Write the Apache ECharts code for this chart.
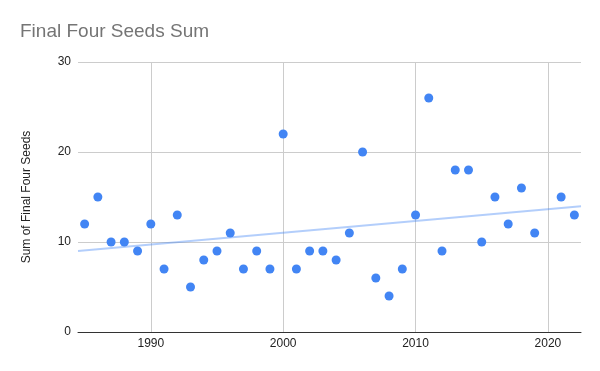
<!DOCTYPE html>
<html>
<head>
<meta charset="utf-8">
<script src="https://cdn.jsdelivr.net/npm/echarts@6/dist/echarts.min.js"></script>
<style>html,body{margin:0;padding:0;background:#fff}#c{width:600px;height:371px}</style>
</head>
<body>
<div id="c"></div>
<script>
const years = [1985,1986,1987,1988,1989,1990,1991,1992,1993,1994,1995,1996,1997,1998,1999,2000,2001,2002,2003,2004,2005,2006,2007,2008,2009,2010,2011,2012,2013,2014,2015,2016,2017,2018,2019,2021,2022];
const seedSums = [12,15,10,10,9,12,7,13,5,8,9,11,7,9,7,22,7,9,9,8,11,20,6,4,7,13,26,9,18,18,10,15,12,16,11,15,13];
const xTicks = [1990,2000,2010,2020];
const yTicks = [0,10,20,30];
const title = 'Final Four Seeds Sum';
const yName = 'Sum of Final Four Seeds';

const xMin = 1984.5, xMax = 2022.5;
// least squares trendline from data
const n = years.length;
const mx = years.reduce((a,b)=>a+b,0)/n;
const my = seedSums.reduce((a,b)=>a+b,0)/n;
let sxy = 0, sxx = 0;
for (let i=0;i<n;i++){ sxy += (years[i]-mx)*(seedSums[i]-my); sxx += (years[i]-mx)*(years[i]-mx); }
const slope = sxy/sxx, icpt = my - slope*mx;
const trend = [[xMin, icpt+slope*xMin],[xMax, icpt+slope*xMax]];

const chart = echarts.init(document.getElementById('c'), null, {renderer:'canvas'});
chart.setOption({
  animation:false,
  backgroundColor:'#fff',
  title:{text:title,left:20,top:22,padding:0,textStyle:{fontFamily:'Arial, Liberation Sans, sans-serif',fontSize:19,fontWeight:'normal',color:'#757575'}},
  grid:{left:78,right:19,top:62,bottom:39,containLabel:false},
  xAxis:{type:'value',min:xMin,max:xMax,
    axisLine:{show:true,onZero:false,lineStyle:{color:'#333',width:1}},
    axisTick:{show:false,customValues:xTicks},
    axisLabel:{customValues:xTicks,formatter:v=>String(v),color:'#222',fontFamily:'Arial, Liberation Sans, sans-serif',fontSize:12,margin:6},
    splitLine:{show:true,lineStyle:{color:'#cccccc',width:1}}
  },
  yAxis:{type:'value',min:0,max:30,interval:10,
    name:yName,nameLocation:'middle',nameGap:45,nameRotate:90,
    nameTextStyle:{color:'#222',fontFamily:'Arial, Liberation Sans, sans-serif',fontSize:12},
    axisLine:{show:false},axisTick:{show:false},
    axisLabel:{formatter:v=>String(v),color:'#222',fontFamily:'Arial, Liberation Sans, sans-serif',fontSize:12,margin:7},
    splitLine:{show:true,lineStyle:{color:'#cccccc',width:1}}
  },
  series:[
    {type:'line',data:trend,symbol:'none',silent:true,z:1,
     lineStyle:{color:'#4285F4',opacity:0.4,width:2}},
    {type:'scatter',data:years.map((y,i)=>[y,seedSums[i]]),symbolSize:9,z:2,
     itemStyle:{color:'#4285F4',opacity:1}}
  ]
});
</script>
</body>
</html>
